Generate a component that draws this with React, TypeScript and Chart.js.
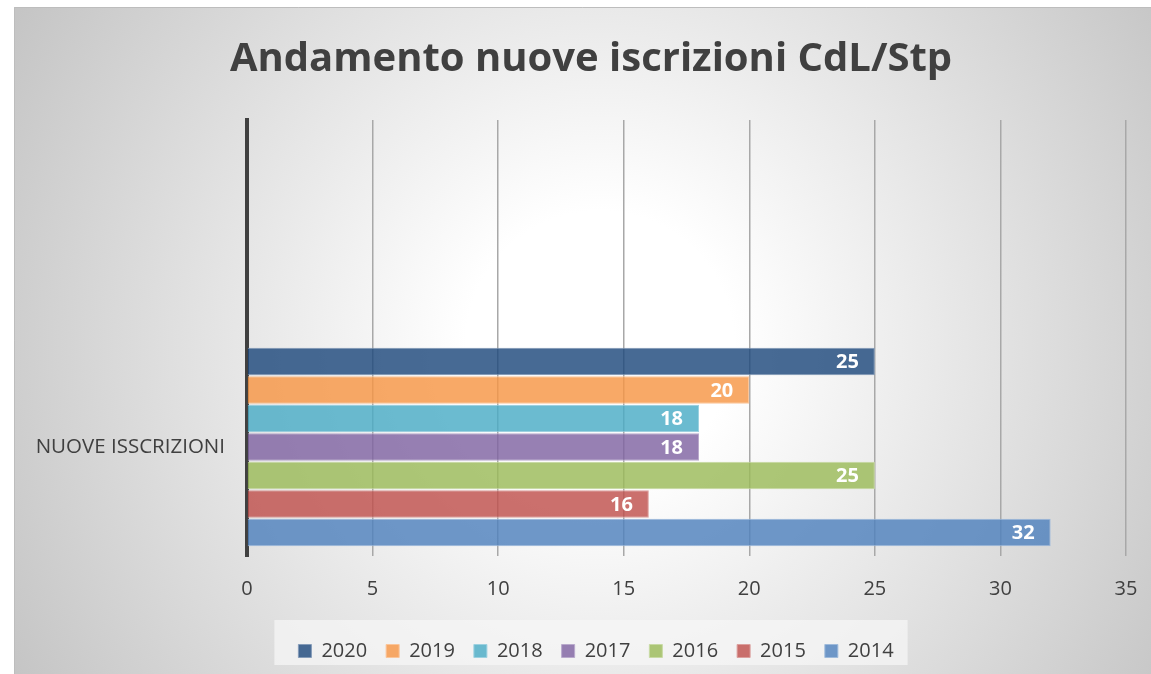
import React, { useEffect, useRef } from "react";
import { Chart, registerables } from "chart.js";

Chart.register(...registerables);

const CATEGORIES = ["", "NUOVE ISSCRIZIONI"];
const YEARS = ["2020", "2019", "2018", "2017", "2016", "2015", "2014"];
const VALUES = [25, 20, 18, 18, 25, 16, 32];
const COLORS = ["#1F497D", "#F79646", "#4BACC6", "#8064A2", "#9BBB59", "#C0504D", "#4F81BD"];
const X_MIN = 0;
const X_MAX = 35;
const X_STEP = 5;
const TITLE = "Andamento nuove iscrizioni CdL/Stp";

function rgba(hex: string, a: number) {
  const n = parseInt(hex.slice(1), 16);
  return `rgba(${(n >> 16) & 255},${(n >> 8) & 255},${n & 255},${a})`;
}
function lighten(hex: string, t: number) {
  const n = parseInt(hex.slice(1), 16);
  const r = (n >> 16) & 255, g = (n >> 8) & 255, b = n & 255;
  const f = (c: number) => Math.round(c + (255 - c) * t);
  return `rgb(${f(r)},${f(g)},${f(b)})`;
}

const FONT = '"Open Sans", "DejaVu Sans", sans-serif';

// shift the centred title / legend boxes so they sit over the frame like the original
const shiftPlugin = {
  id: "shiftBoxes",
  afterLayout(chart: any) {
    const tb = chart.titleBlock;
    if (tb) {
      tb.left += 13;
      tb.right += 13;
    }
    const lg = chart.legend;
    if (lg) {
      lg.left += 18;
      lg.right += 18;
    }
  },
};

const backgroundPlugin = {
  id: "bgFrame",
  beforeDraw(chart: any) {
    const ctx = chart.ctx;
    const W = chart.width, H = chart.height;
    ctx.save();
    ctx.fillStyle = "#ffffff";
    ctx.fillRect(0, 0, W, H);
    const fx = 14, fy = 7;
    const cx = 600, cy = 345;
    const g = ctx.createRadialGradient(cx, cy, 0, cx, cy, 670);
    g.addColorStop(0, "#ffffff");
    g.addColorStop(0.2, "#ffffff");
    g.addColorStop(1, "#c5c5c5");
    ctx.fillStyle = g;
    ctx.fillRect(fx, fy, W - fx, H - fy);
    ctx.strokeStyle = "#bdbdbd";
    ctx.lineWidth = 1;
    ctx.beginPath();
    ctx.moveTo(fx + 0.5, H);
    ctx.lineTo(fx + 0.5, fy + 0.5);
    ctx.lineTo(W, fy + 0.5);
    ctx.stroke();
    // legend panel
    const lg = chart.legend;
    if (lg && lg.legendHitBoxes && lg.legendHitBoxes.length) {
      const hb = lg.legendHitBoxes;
      let l = Infinity, r = -Infinity, t = Infinity, b = -Infinity;
      hb.forEach((h: any) => {
        l = Math.min(l, h.left);
        r = Math.max(r, h.left + h.width);
        t = Math.min(t, h.top);
        b = Math.max(b, h.top + h.height);
      });
      const mid = (t + b) / 2;
      ctx.fillStyle = "rgba(246,246,246,0.75)";
      ctx.fillRect(l - 24, mid - 31, r - l + 38, 45);
    }
    ctx.restore();
  },
};

const labelPlugin = {
  id: "barLabels",
  afterDatasetsDraw(chart: any) {
    const ctx = chart.ctx;
    ctx.save();
    ctx.font = `bold 20px ${FONT}`;
    ctx.fillStyle = "#ffffff";
    ctx.textAlign = "right";
    ctx.textBaseline = "middle";
    chart.data.datasets.forEach((ds: any, i: number) => {
      const meta = chart.getDatasetMeta(i);
      meta.data.forEach((el: any, j: number) => {
        const v = ds.data[j];
        if (v === null || v === undefined) return;
        ctx.fillText(String(v), el.x - 16, el.y + 1);
      });
    });
    ctx.restore();
  },
};

export default function App() {
  const ref = useRef<HTMLCanvasElement | null>(null);
  useEffect(() => {
    let chart: any = null;
    let cancelled = false;
    const make = () => {
      if (cancelled || !ref.current) return;
      const datasets = YEARS.map((y, i) => ({
        label: y,
        data: CATEGORIES.map((_, j) => (j === 1 ? VALUES[i] : null)),
        backgroundColor: rgba(COLORS[i], 0.82),
        borderColor: lighten(COLORS[i], 0.45),
        borderWidth: 1,
        categoryPercentage: 0.915,
        barPercentage: 0.97,
      }));
      chart = new Chart(ref.current, {
        type: "bar",
        data: { labels: CATEGORIES, datasets },
        options: {
          indexAxis: "y",
          responsive: false,
          animation: false,
          devicePixelRatio: 1,
          layout: { padding: { left: 30, right: 25, top: 0, bottom: 3 } },
          plugins: {
            title: {
              display: true,
              text: TITLE,
              color: "#404040",
              font: { family: FONT, size: 40, weight: "bold" },
              padding: { top: 36, bottom: 36 },
            },
            legend: {
              display: true,
              position: "bottom",
              labels: {
                color: "#404040",
                font: { family: FONT, size: 20 },
                boxWidth: 13,
                boxHeight: 13,
                padding: 19,
              },
            },
            tooltip: { enabled: false },
          },
          scales: {
            x: {
              type: "linear",
              min: X_MIN,
              max: X_MAX,
              ticks: {
                stepSize: X_STEP,
                color: "#404040",
                font: { family: FONT, size: 20 },
                padding: 21,
              },
              grid: { color: "#a8a8a8", lineWidth: 1.5, drawTicks: false },
              border: { display: false },
              afterFit(scale: any) {
                scale.height = 66;
                scale.paddingRight = 0;
                scale.paddingLeft = 0;
              },
            },
            y: {
              type: "category",
              ticks: {
                color: "#404040",
                font: { family: FONT, size: 20.5 },
                padding: 22,
              },
              grid: { display: false, drawTicks: false },
              border: { display: true, color: "#404040", width: 4 },
              afterFit(scale: any) {
                scale.width = 217;
              },
            },
          },
        },
        plugins: [shiftPlugin, backgroundPlugin, labelPlugin],
      });
    };
    const fontsApi = (document as any).fonts;
    if (fontsApi && fontsApi.load) {
      Promise.all([
        fontsApi.load(`bold 40px "Open Sans"`),
        fontsApi.load(`20px "Open Sans"`),
      ]).then(make, make);
    } else {
      make();
    }
    return () => {
      cancelled = true;
      if (chart) chart.destroy();
    };
  }, []);
  return (
    <div style={{ position: "absolute", left: 0, top: 0, width: 1151, height: 674 }}>
      <canvas ref={ref} width={1151} height={674} />
    </div>
  );
}
